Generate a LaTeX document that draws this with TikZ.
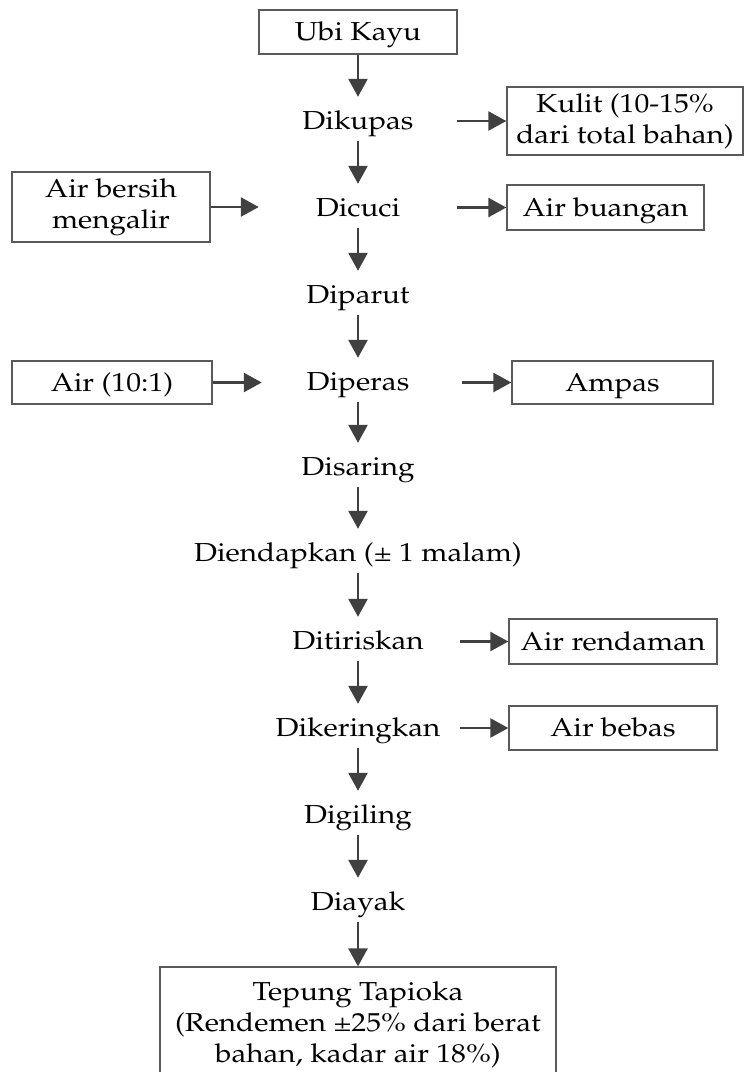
\documentclass[tikz,border=0pt]{standalone}
\usepackage[T1]{fontenc}
\usepackage{mathpazo}
\usetikzlibrary{arrows.meta}
\definecolor{arrc}{HTML}{404040}
\definecolor{boxc}{HTML}{5A5A5A}
\begin{document}
\begin{tikzpicture}[x=1pt,y=-1pt,
  fnt/.style={font=\fontsize{26}{31}\selectfont, xscale=1.14},
  stepnode/.style={fnt, inner sep=0pt, text height=22pt, text depth=1pt,
    minimum height=44pt, minimum width={#1pt/1.14}},
  sidebox/.style 2 args={fnt, draw=boxc, line width=1.2pt, inner sep=0pt, align=center,
    minimum width={#1pt/1.14}, minimum height=#2pt},
  onel/.style={text height=19pt, text depth=2pt},
  arr/.style={draw=arrc, line width=2.6pt,
    -{Triangle[length=18pt,width=19pt]}}
]
\useasboundingbox (0,0) rectangle (744,1072);

% main column
\node[sidebox={198}{44}, onel] (ubi) at (358,32) {Ubi Kayu};
\node[stepnode=198] (dikupas) at (358,119) {Dikupas};
\node[stepnode=198] (dicuci) at (358,206) {Dicuci};
\node[stepnode=198] (diparut) at (358,293) {Diparut};
\node[stepnode=200] (diperas) at (358,380) {Diperas};
\node[stepnode=198] (disaring) at (358,465) {Disaring};
\node[stepnode=198] (diendapkan) at (358,551) {Diendapkan (\textpm{} 1 malam)};
\node[stepnode=204] (ditiriskan) at (358,639) {Ditiriskan};
\node[stepnode=204] (dikeringkan) at (358,726) {Dikeringkan};
\node[stepnode=198] (digiling) at (358,813) {Digiling};
\node[stepnode=198] (diayak) at (358,900) {Diayak};
\node[sidebox={396}{116}] (tepung) at (358,1025)
  {Tepung Tapioka\\(Rendemen \textpm25\% dari berat\\bahan, kadar air 18\%)};

% side boxes
\node[sidebox={236}{68}] (kulit) at (625,121) {Kulit (10-15\%\\dari total bahan)};
\node[sidebox={197}{45}, onel] (buangan) at (605.5,207.5) {Air buangan};
\node[sidebox={198}{70}] (bersih) at (111,207) {Air bersih\\mengalir};
\node[sidebox={200}{43}, onel] (airsatu) at (112,382.5) {Air (10:1)};
\node[sidebox={201}{43}, onel] (ampas) at (612.5,382.5) {Ampas};
\node[sidebox={208}{45}, onel] (rendaman) at (613,641.5) {Air rendaman};
\node[sidebox={208}{44}, onel] (bebas) at (613,728) {Air bebas};

% vertical connectors
\draw[arr] (ubi.south) -- (dikupas.north);
\draw[arr] (dikupas.south) -- (dicuci.north);
\draw[arr] (dicuci.south) -- (diparut.north);
\draw[arr] (diparut.south) -- (diperas.north);
\draw[arr] (diperas.south) -- (disaring.north);
\draw[arr] (disaring.south) -- (diendapkan.north);
\draw[arr] (diendapkan.south) -- (ditiriskan.north);
\draw[arr] (ditiriskan.south) -- (dikeringkan.north);
\draw[arr] (dikeringkan.south) -- (digiling.north);
\draw[arr] (digiling.south) -- (diayak.north);
\draw[arr] (diayak.south) -- (tepung.north);

% horizontal connectors
\draw[arr] (kulit.west -| dikupas.east) -- (kulit.west);
\draw[arr] (buangan.west -| dicuci.east) -- (buangan.west);
\draw[arr] (bersih.east) -- (bersih.east -| dicuci.west);
\draw[arr, shorten >=-4pt] (airsatu.east) -- (airsatu.east -| diperas.west);
\draw[arr, shorten <=4pt] (ampas.west -| diperas.east) -- (ampas.west);
\draw[arr] (rendaman.west -| ditiriskan.east) -- (rendaman.west);
\draw[arr] (bebas.west -| dikeringkan.east) -- (bebas.west);
\end{tikzpicture}
\end{document}
